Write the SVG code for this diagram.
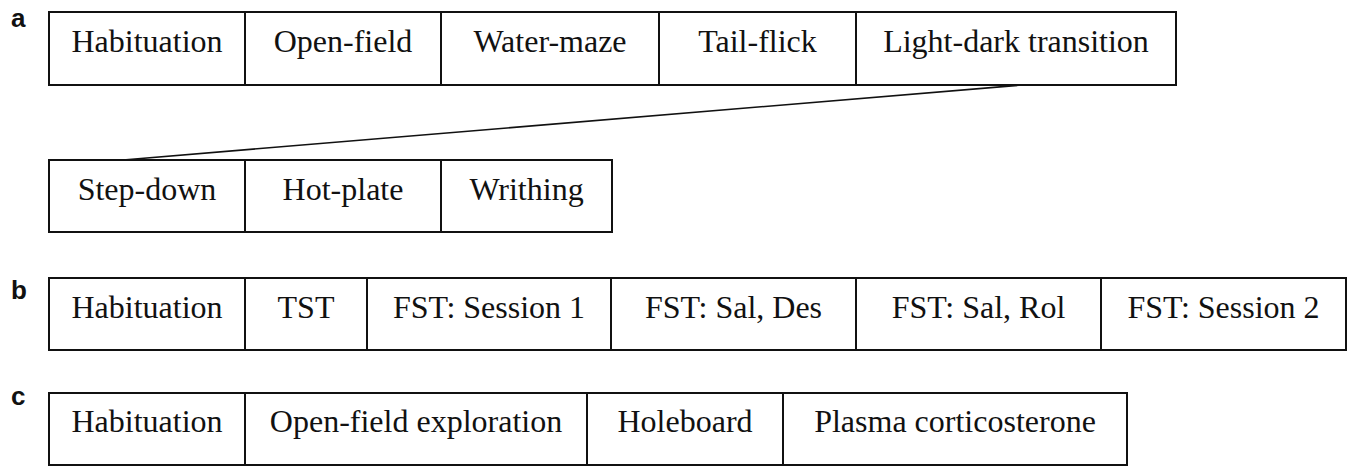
<svg xmlns="http://www.w3.org/2000/svg" width="1350" height="466" viewBox="0 0 1350 466">
<style>
.box{fill:#fff;stroke:#111;stroke-width:2}
.t{font-family:'Liberation Serif','Times New Roman',serif;font-size:32px;fill:#111;text-anchor:middle}
.lab{font-family:'Liberation Sans',Arial,sans-serif;font-size:26px;font-weight:bold;fill:#111}
.conn{stroke:#111;stroke-width:1.6;fill:none}
</style>
<rect width="1350" height="466" fill="#fff"/>
<text class="lab" x="11" y="27">a</text>
<text class="lab" x="11" y="299">b</text>
<text class="lab" x="11" y="405">c</text>
<g id="connectors">
<line class="conn" x1="1022" y1="85" x2="123" y2="160"/>
</g>
<g id="a-habituation"><rect class="box" x="49" y="12" width="196" height="73"/><text class="t" x="147" y="52">Habituation</text></g>
<g id="a-openfield"><rect class="box" x="245" y="12" width="196" height="73"/><text class="t" x="343" y="52">Open-field</text></g>
<g id="a-watermaze"><rect class="box" x="441" y="12" width="218" height="73"/><text class="t" x="550" y="52">Water-maze</text></g>
<g id="a-tailflick"><rect class="box" x="659" y="12" width="197" height="73"/><text class="t" x="757.5" y="52">Tail-flick</text></g>
<g id="a-lightdark"><rect class="box" x="856" y="12" width="320" height="73"/><text class="t" x="1016" y="52">Light-dark transition</text></g>
<g id="a-stepdown"><rect class="box" x="49" y="160" width="196" height="72"/><text class="t" x="147" y="200">Step-down</text></g>
<g id="a-hotplate"><rect class="box" x="245" y="160" width="196" height="72"/><text class="t" x="343" y="200">Hot-plate</text></g>
<g id="a-writhing"><rect class="box" x="441" y="160" width="171" height="72"/><text class="t" x="526.5" y="200">Writhing</text></g>
<g id="b-habituation"><rect class="box" x="49" y="278" width="196" height="72"/><text class="t" x="147" y="318">Habituation</text></g>
<g id="b-tst"><rect class="box" x="245" y="278" width="122" height="72"/><text class="t" x="306" y="318">TST</text></g>
<g id="b-fst1"><rect class="box" x="367" y="278" width="244" height="72"/><text class="t" x="489" y="318">FST: Session 1</text></g>
<g id="b-fstdes"><rect class="box" x="611" y="278" width="245" height="72"/><text class="t" x="733.5" y="318">FST: Sal, Des</text></g>
<g id="b-fstrol"><rect class="box" x="856" y="278" width="245" height="72"/><text class="t" x="978.5" y="318">FST: Sal, Rol</text></g>
<g id="b-fst2"><rect class="box" x="1101" y="278" width="245" height="72"/><text class="t" x="1223.5" y="318">FST: Session 2</text></g>
<g id="c-habituation"><rect class="box" x="49" y="393" width="196" height="72"/><text class="t" x="147" y="432">Habituation</text></g>
<g id="c-openfield"><rect class="box" x="245" y="393" width="342" height="72"/><text class="t" x="416" y="432">Open-field exploration</text></g>
<g id="c-holeboard"><rect class="box" x="587" y="393" width="196" height="72"/><text class="t" x="685" y="432">Holeboard</text></g>
<g id="c-plasma"><rect class="box" x="783" y="393" width="344" height="72"/><text class="t" x="955" y="432">Plasma corticosterone</text></g>
</svg>
